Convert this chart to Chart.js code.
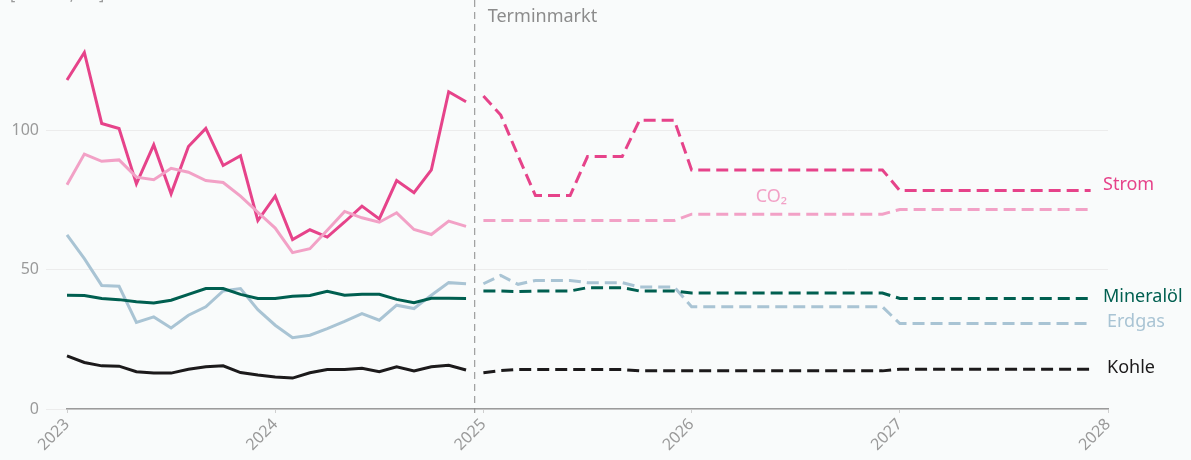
<!DOCTYPE html>
<html lang="de">
<head>
<meta charset="utf-8">
<script src="https://cdn.jsdelivr.net/npm/chart.js@4/dist/chart.umd.min.js"></script>
<style>
  html, body { margin: 0; padding: 0; background: #f9fbfb; }
  #wrap { position: relative; width: 1191px; height: 460px; }
</style>
</head>
<body>
<div id="wrap"><canvas id="chart"></canvas></div>
<script>
// x axis: months from Jan 2023 to Jan 2028
const years = [2023, 2024, 2025, 2026, 2027, 2028];
const unitLabel = '[€/MWh, €/t]';

// historical monthly values, Jan 2023 .. Dec 2024
const stromHist = [118.2, 128.1, 102.6, 100.8, 80.9, 94.9, 77.3, 94.3, 100.8, 87.5, 91.0, 67.7,
                   76.5, 60.9, 64.4, 61.8, 67.2, 72.9, 68.3, 82.1, 77.7, 85.9, 114.0, 110.4];
const co2Hist = [80.6, 91.6, 89.0, 89.5, 83.3, 82.4, 86.5, 85.1, 82.1, 81.4, 76.5, 70.7,
                 65.0, 56.2, 57.6, 64.2, 71.0, 68.7, 67.1, 70.5, 64.5, 62.7, 67.5, 65.6];
const gasHist = [62.6, 54.0, 44.4, 44.1, 31.1, 33.1, 29.1, 33.7, 36.7, 42.4, 43.3, 35.7,
                 30.1, 25.6, 26.5, 28.9, 31.5, 34.3, 31.9, 37.3, 36.1, 40.9, 45.4, 45.0];
const oilHist = [40.9, 40.8, 39.7, 39.3, 38.5, 38.1, 39.1, 41.2, 43.3, 43.3, 41.2, 39.7,
                 39.7, 40.5, 40.8, 42.3, 40.9, 41.2, 41.2, 39.4, 38.2, 39.8, 39.8, 39.7];
const coalHist = [19.1, 16.7, 15.5, 15.4, 13.4, 12.9, 12.9, 14.3, 15.2, 15.5, 13.1, 12.2,
                  11.5, 11.1, 13.0, 14.2, 14.2, 14.6, 13.4, 15.2, 13.7, 15.2, 15.7, 14.0];

// forward market (Terminmarkt), Jan 2025 .. Dec 2027
const stromFwd = [112.5, 105.6, 91.0, 76.7, 76.7, 76.7, 90.7, 90.7, 90.7, 103.8, 103.8, 103.8,
                  85.9, 85.9, 85.9, 85.9, 85.9, 85.9, 85.9, 85.9, 85.9, 85.9, 85.9, 85.9,
                  78.5, 78.5, 78.5, 78.5, 78.5, 78.5, 78.5, 78.5, 78.5, 78.5, 78.5, 78.5];
const co2Fwd = [67.7, 67.7, 67.7, 67.7, 67.7, 67.7, 67.7, 67.7, 67.7, 67.7, 67.7, 67.7,
                70.0, 70.0, 70.0, 70.0, 70.0, 70.0, 70.0, 70.0, 70.0, 70.0, 70.0, 70.0,
                71.7, 71.7, 71.7, 71.7, 71.7, 71.7, 71.7, 71.7, 71.7, 71.7, 71.7, 71.7];
const gasFwd = [45.0, 48.0, 44.8, 46.2, 46.2, 46.2, 45.4, 45.4, 45.4, 43.8, 43.8, 43.8,
                36.7, 36.7, 36.7, 36.7, 36.7, 36.7, 36.7, 36.7, 36.7, 36.7, 36.7, 36.7,
                30.7, 30.7, 30.7, 30.7, 30.7, 30.7, 30.7, 30.7, 30.7, 30.7, 30.7, 30.7];
const oilFwd = [42.4, 42.4, 42.2, 42.4, 42.4, 42.4, 43.6, 43.6, 43.6, 42.4, 42.4, 42.4,
                41.7, 41.7, 41.7, 41.7, 41.7, 41.7, 41.7, 41.7, 41.7, 41.7, 41.7, 41.7,
                39.7, 39.7, 39.7, 39.7, 39.7, 39.7, 39.7, 39.7, 39.7, 39.7, 39.7, 39.7];
const coalFwd = [13.0, 13.8, 14.2, 14.2, 14.2, 14.2, 14.2, 14.2, 14.2, 13.7, 13.7, 13.7,
                 13.7, 13.7, 13.7, 13.7, 13.7, 13.7, 13.7, 13.7, 13.7, 13.7, 13.7, 13.7,
                 14.3, 14.3, 14.3, 14.3, 14.3, 14.3, 14.3, 14.3, 14.3, 14.3, 14.3, 14.3];

const seriesNames = ['Strom', 'CO₂', 'Erdgas', 'Mineralöl', 'Kohle'];
const colors = ['#e6438a', '#f2a1c6', '#a9c4d4', '#005f50', '#1c1a1b'];

const labels = [];
years.forEach((y, yi) => {
  if (yi === years.length - 1) { labels.push(String(y)); return; }
  for (let m = 1; m <= 12; m++) labels.push(y + '-' + String(m).padStart(2, '0'));
});

const nHist = stromHist.length;
const pad = n => new Array(n).fill(null);
const histData = [stromHist, co2Hist, gasHist, oilHist, coalHist];
const fwdData = [stromFwd, co2Fwd, gasFwd, oilFwd, coalFwd];

const datasets = [];
histData.forEach((vals, i) => {
  datasets.push({
    label: seriesNames[i],
    data: vals.concat(pad(labels.length - vals.length)),
    borderColor: colors[i],
    borderWidth: 3,
    pointRadius: 0,
    tension: 0,
    order: 5 - i
  });
});
fwdData.forEach((vals, i) => {
  datasets.push({
    label: seriesNames[i] + ' Termin',
    data: pad(nHist).concat(vals).concat(pad(labels.length - nHist - vals.length)),
    borderColor: colors[i],
    borderWidth: 3,
    borderDash: [12, 6],
    pointRadius: 0,
    tension: 0,
    order: 5 - i
  });
});

// end-of-line labels: [text, series index, x, dy]
const endLabels = [
  ['Strom', 0, 1103, -6],
  ['Mineralöl', 3, 1103, -2],
  ['Erdgas', 2, 1107, -2],
  ['Kohle', 4, 1107, -1]
];

const annotations = {
  id: 'annotations',
  afterDatasetsDraw(chart) {
    const { ctx, scales: { x, y }, chartArea } = chart;
    ctx.save();
    // Terminmarkt divider
    const xd = x.getPixelForValue(nHist - 0.5);
    ctx.strokeStyle = '#8a8a8a';
    ctx.lineWidth = 1;
    ctx.setLineDash([7, 5]);
    ctx.beginPath();
    ctx.moveTo(xd, 0);
    ctx.lineTo(xd, chartArea.bottom + 4);
    ctx.stroke();
    ctx.setLineDash([]);

    ctx.font = '18px "Noto Sans"';
    ctx.textBaseline = 'middle';
    ctx.textAlign = 'left';
    ctx.fillStyle = '#8c8c8c';
    ctx.fillText('Terminmarkt', xd + 13, 17);

    endLabels.forEach(([txt, si, lx, dy]) => {
      const v = fwdData[si][fwdData[si].length - 1];
      ctx.fillStyle = colors[si];
      ctx.fillText(txt, lx, y.getPixelForValue(v) + dy);
    });

    // CO2 label above its forward line
    ctx.fillStyle = colors[1];
    ctx.textAlign = 'center';
    ctx.fillText('CO₂', x.getPixelForValue(40.6), y.getPixelForValue(co2Fwd[20]) - 17);

    // unit label, cut at the top edge
    ctx.textAlign = 'left';
    ctx.textBaseline = 'alphabetic';
    ctx.fillStyle = '#9a9a9a';
    ctx.font = '16px "Noto Sans"';
    ctx.fillText(unitLabel, 10, 0);
    ctx.restore();
  }
};

new Chart(document.getElementById('chart'), {
  type: 'line',
  data: { labels, datasets },
  options: {
    responsive: true,
    maintainAspectRatio: false,
    animation: false,
    layout: { padding: { top: 2, right: 83, left: 0, bottom: 0 } },
    plugins: { legend: { display: false }, tooltip: { enabled: false } },
    scales: {
      x: {
        type: 'category',
        offset: false,
        afterFit: s => { s.height = 51; },
        grid: {
          drawOnChartArea: false,
          color: c => (c.index % 12 === 0 ? '#cfcfcf' : 'rgba(0,0,0,0)'),
          tickLength: 4
        },
        border: { display: true, color: '#9b9b9b', width: 1.5 },
        ticks: {
          autoSkip: false,
          maxRotation: 45,
          minRotation: 45,
          padding: 2,
          color: '#9a9a9a',
          font: { family: 'Noto Sans', size: 16 },
          callback: (v, i) => (i % 12 === 0 ? String(years[i / 12]) : '')
        }
      },
      y: {
        min: 0,
        max: 141,
        afterFit: s => { s.width = 67; },
        border: { display: false },
        grid: {
          color: c => (c.tick && c.tick.value % 50 === 0 ? '#ececec' : 'rgba(0,0,0,0)'),
          tickLength: 21
        },
        ticks: {
          stepSize: 50,
          padding: 7,
          color: '#9a9a9a',
          font: { family: 'Noto Sans', size: 16 },
          callback: v => (v % 50 === 0 ? v : '')
        }
      }
    }
  },
  plugins: [annotations]
});
</script>
</body>
</html>
